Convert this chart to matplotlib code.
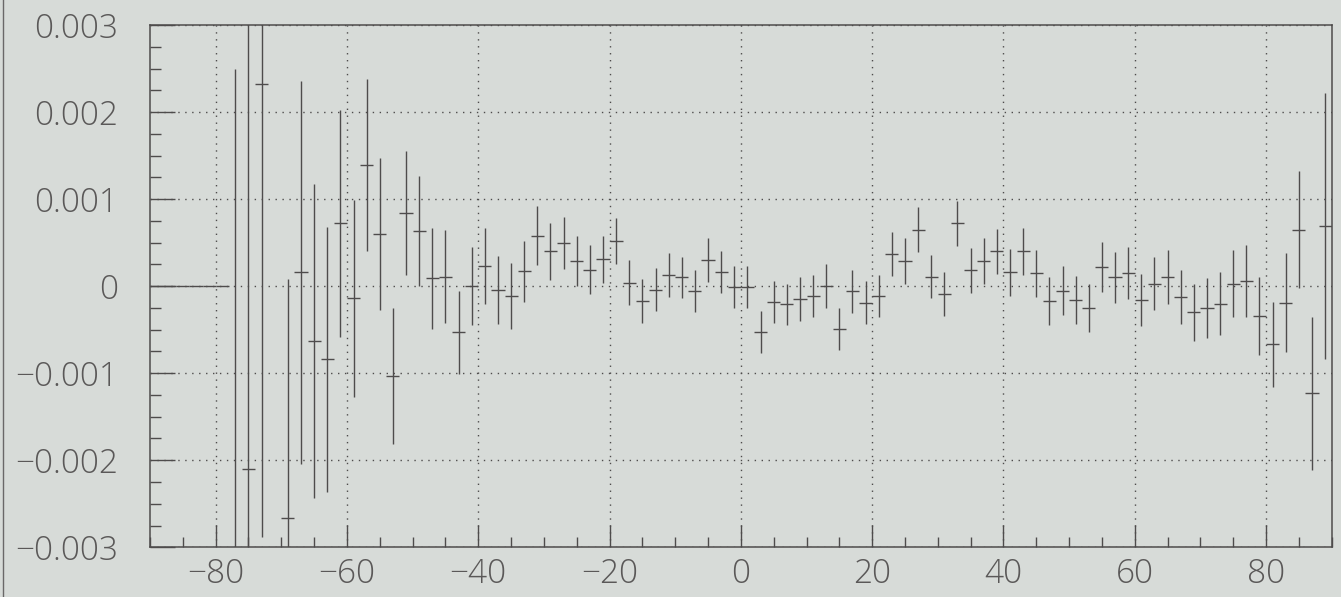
import numpy as np
import matplotlib
matplotlib.use("Agg")
import matplotlib.pyplot as plt
from matplotlib.ticker import MultipleLocator, FuncFormatter
from matplotlib.lines import Line2D

# bin centres (2 units wide bins from -90 to 90)
bin_centers = np.arange(-89, 90, 2)

# bin contents
values = [
    0, 0, 0, 0, 0, 0,
    -0.0036, -0.0021, 0.00232, np.nan, -0.00266, 0.00016, -0.00063, -0.00084,
    0.00072, -0.00014, 0.00139, 0.0006, -0.00103, 0.00084, 0.00063, 0.00009,
    0.00011, -0.00053, 0.0, 0.00023, -0.00004, -0.00011, 0.00017, 0.00058,
    0.0004, 0.0005, 0.00029, 0.00019, 0.00031, 0.00052, 0.00004, -0.00017,
    -0.00004, 0.00013, 0.0001, -0.00006, 0.0003, 0.00016, -0.00001, -0.00001,
    -0.00053, -0.00018, -0.00021, -0.00015, -0.00011, 0.0, -0.00049, -0.00006,
    -0.00019, -0.00011, 0.00037, 0.00029, 0.00065, 0.00011, -0.00009, 0.00072,
    0.00018, 0.00029, 0.0004, 0.00016, 0.0004, 0.00015, -0.00017, -0.00005,
    -0.00016, -0.00025, 0.00022, 0.0001, 0.00015, -0.00016, 0.00003, 0.00011,
    -0.00013, -0.0003, -0.00025, -0.0002, 0.00003, 0.00006, -0.00034, -0.00067,
    -0.00019, 0.00065, -0.00123, 0.00069,
]

# bin errors
errors = [
    0, 0, 0, 0, 0, 0,
    0.0061, 0.0055, 0.0052, np.nan, 0.00274, 0.0022, 0.0018, 0.00152,
    0.0013, 0.00113, 0.00099, 0.00087, 0.00078, 0.00071, 0.00063, 0.00058,
    0.00053, 0.00048, 0.00045, 0.00044, 0.00039, 0.00038, 0.00035, 0.00034,
    0.00033, 0.0003, 0.00029, 0.00028, 0.00027, 0.00026, 0.00026, 0.00025,
    0.00025, 0.00025, 0.00024, 0.00024, 0.00025, 0.00024, 0.00024, 0.00024,
    0.00024, 0.00024, 0.00024, 0.00025, 0.00024, 0.00025, 0.00024, 0.00025,
    0.00025, 0.00024, 0.00025, 0.00026, 0.00026, 0.00025, 0.00025, 0.00026,
    0.00026, 0.00026, 0.00026, 0.00027, 0.00027, 0.00027, 0.00028, 0.00028,
    0.00028, 0.00028, 0.00029, 0.00029, 0.0003, 0.0003, 0.0003, 0.00031,
    0.00031, 0.00033, 0.00034, 0.00036, 0.00038, 0.00041, 0.00045, 0.00049,
    0.00057, 0.00067, 0.00088, 0.00153,
]

half_width = 1.0
bg = '#d7dbd8'
ink = '#4e4c4c'

fig = plt.figure(figsize=(13.41, 5.97), dpi=100, facecolor=bg)
ax = fig.add_axes([150/1341, 1 - 547.3/597, (1331.7 - 150)/1341, (547.3 - 25)/597])
ax.set_facecolor(bg)

ax.errorbar(bin_centers, values, yerr=errors, xerr=half_width, fmt='none',
            ecolor=ink, elinewidth=1.0, capsize=0, zorder=3)

ax.set_xlim(-90, 90)
ax.set_ylim(-0.003, 0.003)

ax.xaxis.set_major_locator(MultipleLocator(20))
ax.xaxis.set_minor_locator(MultipleLocator(5))
ax.yaxis.set_major_locator(MultipleLocator(0.001))
ax.yaxis.set_minor_locator(MultipleLocator(0.00025))

def yfmt(v, pos):
    if abs(v) < 1e-9:
        return '0'
    return ('%.3f' % v).replace('-', '\u2212')

def xfmt(v, pos):
    return ('%d' % round(v)).replace('-', '\u2212')

ax.yaxis.set_major_formatter(FuncFormatter(yfmt))
ax.xaxis.set_major_formatter(FuncFormatter(xfmt))

ax.tick_params(which='both', direction='in', color=ink, width=1.0,
               top=False, right=False)
ax.tick_params(axis='y', which='major', length=18, pad=23)
ax.tick_params(axis='y', which='minor', length=8)
ax.tick_params(axis='x', which='major', length=16, pad=7)
ax.tick_params(axis='x', which='minor', length=7)

for lab in ax.get_xticklabels() + ax.get_yticklabels():
    lab.set_family(['Open Sans', 'DejaVu Sans'])
    lab.set_fontweight('light')
    lab.set_fontsize(24)
    lab.set_color('#5a5858')

ax.grid(True, which='major', color=ink, linestyle=(0, (1, 4)), linewidth=1.0)
ax.set_axisbelow(True)

for sp in ax.spines.values():
    sp.set_color(ink)
    sp.set_linewidth(1.1)

# left edge of the scanned page
fig.add_artist(Line2D([3/1341, 3/1341], [0, 1], color='#6a6868', linewidth=1.0))

fig.savefig('out.png', dpi=100, facecolor=bg)
